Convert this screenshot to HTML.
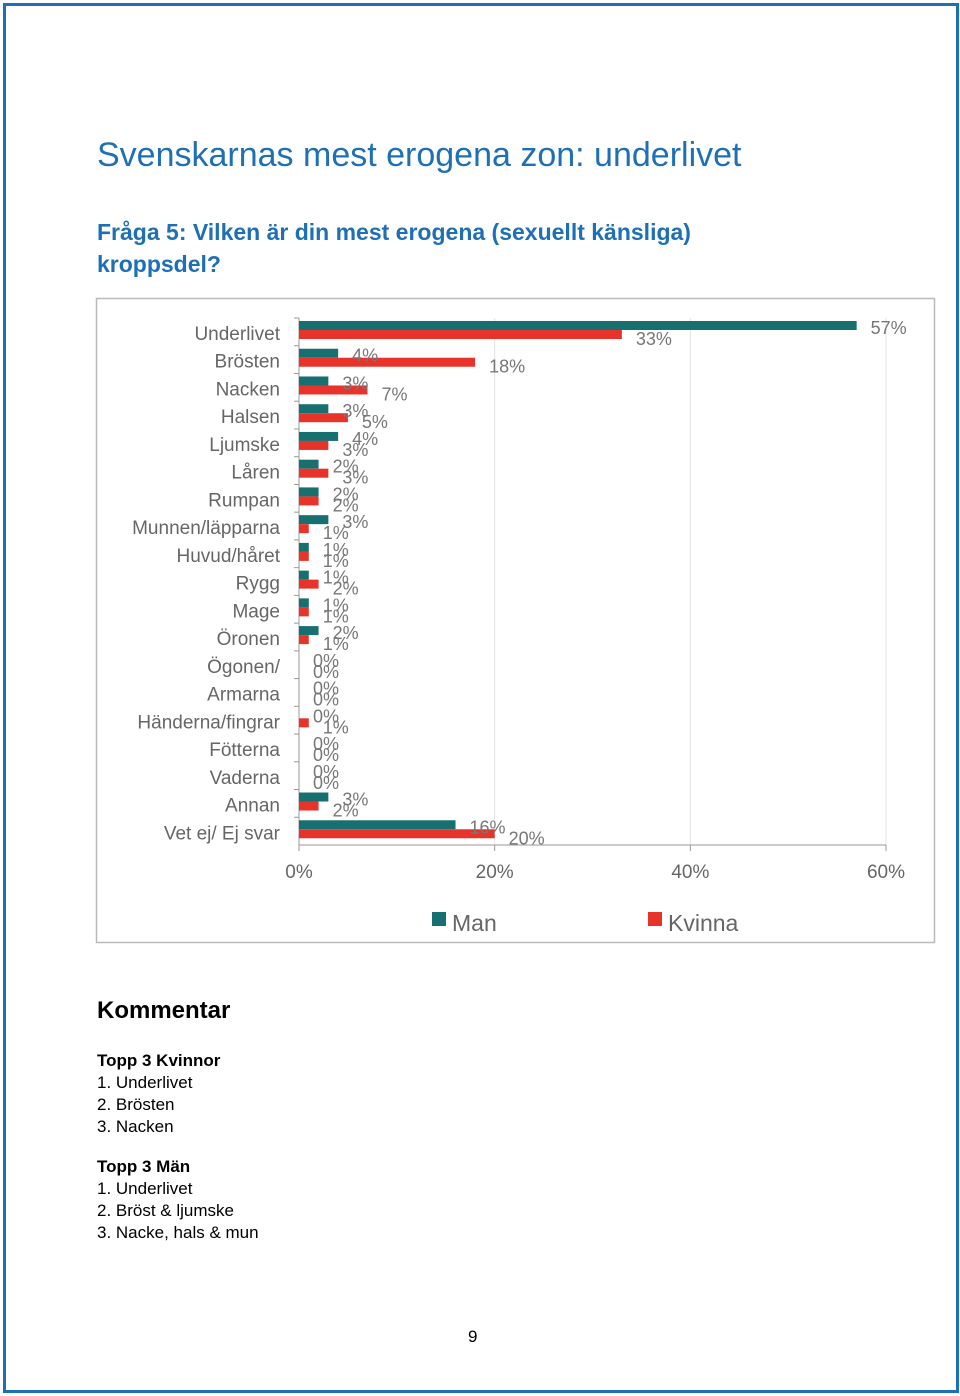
<!DOCTYPE html>
<html><head><meta charset="utf-8"><style>
body{margin:0;background:#fff;font-family:"Liberation Sans",sans-serif}
#page{position:relative;width:960px;height:1396px;overflow:hidden}
.frame{position:absolute;left:3px;top:3px;width:950px;height:1384px;border:3px solid #1f6fb5}
h1{position:absolute;left:97px;top:136px;margin:0;font-weight:normal;font-size:34px;color:#1f6fb5}
.q{position:absolute;left:97px;top:216px;font-weight:bold;font-size:23px;color:#1f6fb5;line-height:32px}
.k{position:absolute;left:97px;font-size:17px;color:#000;line-height:22px}
</style></head><body><div id="page">
<div class="frame"></div>
<h1>Svenskarnas mest erogena zon: underlivet</h1>
<div class="q">Fråga 5: Vilken är din mest erogena (sexuellt känsliga)<br>kroppsdel?</div>
<svg id="chart" style="position:absolute;left:0;top:0" width="960" height="960"></svg>
<div class="k" style="top:1000px;font-size:24px;font-weight:bold">Kommentar</div>
<div class="k" style="top:1050px"><b>Topp 3 Kvinnor</b><br>1. Underlivet<br>2. Brösten<br>3. Nacken</div>
<div class="k" style="top:1156px"><b>Topp 3 Män</b><br>1. Underlivet<br>2. Bröst &amp; ljumske<br>3. Nacke, hals &amp; mun</div>
<div class="k" style="top:1326px;left:468px">9</div>
</div>
<script>
const categories=["Underlivet","Brösten","Nacken","Halsen","Ljumske","Låren","Rumpan","Munnen/läpparna","Huvud/håret","Rygg","Mage","Öronen","Ögonen/","Armarna","Händerna/fingrar","Fötterna","Vaderna","Annan","Vet ej/ Ej svar"];
const manValues=[57,4,3,3,4,2,2,3,1,1,1,2,0,0,0,0,0,3,16];
const kvinnaValues=[33,18,7,5,3,3,2,1,1,2,1,1,0,0,1,0,0,2,20];
const xTicks=[0,20,40,60];
const NS="http://www.w3.org/2000/svg";
const svg=document.getElementById('chart');
const x0=299,x1=886,yTop=318,yBot=845,xMax=60;
const X=v=>x0+(x1-x0)*v/xMax;
const band=(yBot-yTop)/categories.length;
const Y=i=>yTop+i*band;
function mk(t,a){const e=document.createElementNS(NS,t);for(const k in a)e.setAttribute(k,a[k]);svg.appendChild(e);return e;}
let e=mk('rect',{x:96.5,y:298.5,width:838,height:644,fill:'none',stroke:'#bbb','stroke-width':1.5});

xTicks.forEach(t=>{
 if(t>0){let g=mk('line',{x1:X(t),x2:X(t),y1:yTop,y2:yBot,stroke:'#e4e4e4'});}
 let tk=mk('line',{x1:X(t),x2:X(t),y1:yBot,y2:yBot+6,stroke:'#999'});
 let l=mk('text',{x:X(t),y:878,'text-anchor':'middle','font-size':19,fill:'#666'});l.textContent=t+'%';
 
});
e=mk('line',{x1:x0,x2:x0,y1:yTop,y2:yBot,stroke:'#999'});
e=mk('line',{x1:x0,x2:x1,y1:yBot,y2:yBot,stroke:'#999'});
categories.forEach((c,i)=>{
 const y=Y(i);
 let tk=mk('line',{x1:x0-5,x2:x0,y1:y,y2:y,stroke:'#999'});
 let l=mk('text',{x:280,y:y+22,'text-anchor':'end','font-size':19,fill:'#666'});l.textContent=c;
 
 let m=mk('rect',{x:x0,y:y+3,width:X(manValues[i])-x0,height:9,fill:'#17706f'});
 
 let k=mk('rect',{x:x0,y:y+12,width:X(kvinnaValues[i])-x0,height:9,fill:'#e8332b'});
 
 let ml=mk('text',{x:X(manValues[i])+14,y:y+16,'font-size':18,fill:'#777'});ml.textContent=manValues[i]+'%';
 
 let kl=mk('text',{x:X(kvinnaValues[i])+14,y:y+27,'font-size':18,fill:'#777'});kl.textContent=kvinnaValues[i]+'%';
 
});
[[432,'#17706f','Man','legend-man'],[648,'#e8332b','Kvinna','legend-kvinna']].forEach(([lx,col,txt,n])=>{
 let r=mk('rect',{x:lx,y:912,width:14,height:14,fill:col});
 let t=mk('text',{x:lx+20,y:931,'font-size':23,fill:'#666'});t.textContent=txt;
});
</script>
</body></html>
